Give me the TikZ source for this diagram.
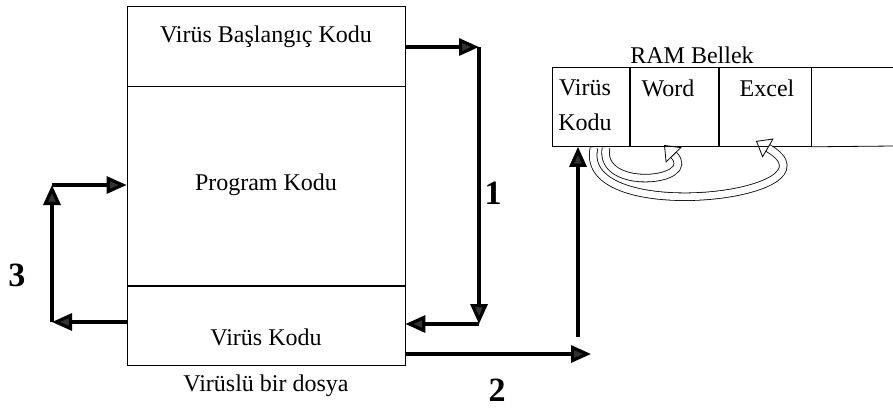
\documentclass[tikz,border=0pt]{standalone}
\usepackage{fontspec}
\setmainfont{Liberation Serif}
\usetikzlibrary{arrows.meta, positioning, calc}

\begin{document}
\begin{tikzpicture}[x=0.5pt, y=-0.5pt,
    part/.style={draw, minimum width=139pt, inner sep=0pt},
    cell/.style={draw, minimum height=39.5pt, inner sep=0pt, anchor=north west},
    lbl/.style={font=\fontsize{12}{14}\selectfont},
    num/.style={font=\fontsize{17}{19}\selectfont\bfseries},
    flow/.style={line width=1.6pt, -{Triangle[length=10pt,width=8.5pt,fill=black!80]}},
    jump/.style={draw=black, line width=0.4pt, double=white, double distance=3.4pt,
                 -{Triangle[open,length=7pt,width=11pt]}}]
    \useasboundingbox (0,0) rectangle (893,414);

    % Infected file
    \node[part, minimum height=40pt] (part1) at (266,46) {};
    \node[part, minimum height=99.5pt, below=0pt of part1] (part2) {};
    \node[part, minimum height=39.5pt, below=0pt of part2] (part3) {};
    \node[lbl] (t1) at (266,37) {Virüs Başlangıç Kodu};
    \node[lbl] (t2) at (266,185) {Program Kodu};
    \node[lbl] (t3) at (266,337) {Virüs Kodu};
    \node[lbl] (file) at (266,386) {Virüslü bir dosya};

    % RAM
    \node[cell, minimum width=38.5pt] (ram1) at (552,67) {};
    \node[cell, minimum width=44pt] (ram2) at (ram1.north east) {};
    \node[cell, minimum width=46pt] (ram3) at (ram2.north east) {};
    \draw (ram3.north east) -- (893,67);
    \draw (ram3.south east) -- (893,146);
    \node[lbl] (ram) at (692,55) {RAM Bellek};
    \node[lbl, align=center, font=\fontsize{12}{17.5}\selectfont] (vk) at (585,105) {Virüs\\Kodu};
    \node[lbl] (word) at (668,88) {Word};
    \node[lbl] (excel) at (767,88) {Excel};

    % Path 1
    \coordinate (r1) at (479,47);
    \coordinate (r2) at (479,324);
    \draw[flow] (part1.east |- r1) -- (r1);
    \draw[flow] (r1) -- (r2);
    \draw[flow] (r2) -- (r2 -| part3.east);
    \node[num] (n1) at (493,193) {1};

    % Path 2
    \coordinate (a2) at (405,354);
    \coordinate (c2) at (591,354);
    \coordinate (d2) at (578,337);
    \draw[flow] (a2) -- (c2);
    \draw[flow] (d2) -- (d2 |- ram1.south);
    \node[num] (n2) at (497,390) {2};

    % Path 3
    \coordinate (l1) at (52,322);
    \coordinate (l2) at (52,185);
    \draw[flow] (l1 -| part3.west) -- (l1);
    \draw[flow] (l1) -- (l2);
    \draw[flow] (l2) -- (l2 -| part2.west);
    \node[num] (n3) at (17,275) {3};

    % Spreading in memory
    \draw[jump] (606,148) .. controls (598,192) and (700,182) .. (664,145);
    \draw[jump] (594,148) .. controls (576,228) and (850,196) .. (756,141);
\end{tikzpicture}
\end{document}
